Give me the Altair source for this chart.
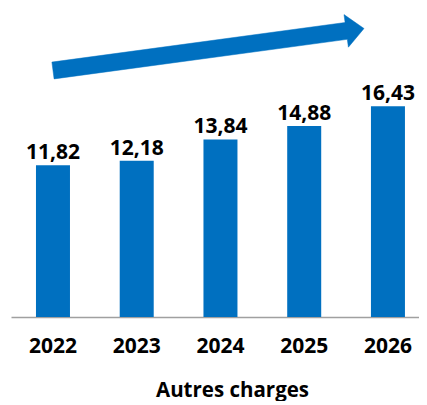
import altair as alt
import pandas as pd

years = ["2022", "2023", "2024", "2025", "2026"]
values = [11.82, 12.18, 13.84, 14.88, 16.43]
labels = ["11,82", "12,18", "13,84", "14,88", "16,43"]
axis_title = "Autres charges"

df = pd.DataFrame({"year": years, "value": values, "label": labels})

FONT = "Open Sans"
BLUE = "#0070C0"

x_enc = alt.X(
    "year:N",
    sort=years,
    scale=alt.Scale(paddingInner=0.594, paddingOuter=0.233, align=0.64),
    axis=alt.Axis(
        title=axis_title,
        titleFont=FONT,
        titleFontSize=20.5,
        titleFontWeight="bold",
        titleColor="#000000",
        titlePadding=24,
        titleX=221,
        titleAlign="center",
        labelFont=FONT,
        labelFontSize=21,
        labelFontWeight="bold",
        labelColor="#000000",
        labelPadding=18,
        labelAngle=0,
        ticks=False,
        domainColor="#A0A0A0",
        domainWidth=1.5,
    ),
)
y_enc = alt.Y("value:Q", scale=alt.Scale(domain=[0, 24]), axis=None)

bars = alt.Chart(df).mark_bar(color=BLUE).encode(x=x_enc, y=y_enc)

text = alt.Chart(df).mark_text(
    font=FONT, fontSize=21, fontWeight="bold", color="#000000",
    baseline="alphabetic", dy=-6,
).encode(x=alt.X("year:N", sort=years), y="value:Q", text="label:N")

arrow = alt.Chart(df.head(1)).mark_point(
    shape="M 40.9 53.1 L 334.1 13.5 L 333 5.6 L 353 19.5 L 337.4 38.2 L 336.3 30.3 L 43.1 69.9 Z",
    filled=True, fill=BLUE, stroke=BLUE, strokeWidth=0.5, opacity=1, size=4,
).encode(x=alt.value(0), y=alt.value(0))

chart = alt.layer(bars, text, arrow).properties(
    width=408, height=308,
    padding={"left": 3, "top": 1, "right": 0, "bottom": 0},
).configure_view(stroke=None)

chart.save("out.html", embed_options={"renderer": "svg", "actions": False})
